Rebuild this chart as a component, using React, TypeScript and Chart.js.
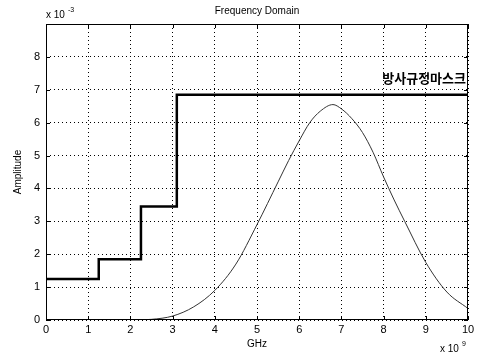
import React, { useEffect, useRef } from "react";
import { Chart, registerables } from "chart.js";

Chart.register(...registerables);

// Frequency in GHz (axis shown as x 10^9 Hz), amplitude in units of 10^-3
const maskFreq = [0, 1.25, 1.25, 2.25, 2.25, 3.1, 3.1, 10];
const maskAmp = [1.25, 1.25, 1.85, 1.85, 3.45, 3.45, 6.85, 6.85];

const pulseFreq = [0, 1, 2, 2.5, 3, 3.5, 4, 4.5, 5, 5.5, 5.75, 6, 6.25, 6.5, 6.8, 7, 7.25, 7.5, 7.75, 8, 8.25, 8.5, 9, 9.5, 10];
const pulseAmp = [0, 0, 0, 0.02, 0.12, 0.4, 0.9, 1.7, 2.9, 4.2, 4.85, 5.45, 6.0, 6.35, 6.55, 6.42, 6.12, 5.7, 5.1, 4.35, 3.65, 3.0, 1.75, 0.85, 0.35];

const xTicks = [0, 1, 2, 3, 4, 5, 6, 7, 8, 9, 10];
const yTicks = [0, 1, 2, 3, 4, 5, 6, 7, 8];

const titleText = "Frequency Domain";
const xLabel = "GHz";
const yLabel = "Amplitude";
const maskLabel = "방사규정마스크";

export default function App() {
  const ref = useRef<HTMLCanvasElement | null>(null);
  useEffect(() => {
    if (!ref.current) return;
    const font = "'Liberation Sans', Arial, sans-serif";
    const overlay = {
      id: "overlay",
      afterDraw(chart: any) {
        const ctx = chart.ctx;
        const a = chart.chartArea;
        const xs = chart.scales.x;
        const ys = chart.scales.y;
        ctx.save();
        ctx.strokeStyle = "#000";
        ctx.lineWidth = 1;
        ctx.setLineDash([]);
        ctx.strokeRect(a.left + 0.5, a.top + 0.5, a.right - a.left - 1, a.bottom - a.top - 1);
        ctx.beginPath();
        xTicks.forEach((t) => {
          const px = Math.round(xs.getPixelForValue(t)) + 0.5;
          ctx.moveTo(px, a.bottom);
          ctx.lineTo(px, a.bottom - 4);
          ctx.moveTo(px, a.top);
          ctx.lineTo(px, a.top + 4);
        });
        yTicks.forEach((t) => {
          const py = Math.round(ys.getPixelForValue(t)) + 0.5;
          ctx.moveTo(a.left, py);
          ctx.lineTo(a.left + 4, py);
          ctx.moveTo(a.right, py);
          ctx.lineTo(a.right - 4, py);
        });
        ctx.stroke();
        ctx.fillStyle = "#000";
        ctx.font = `10px ${font}`;
        ctx.textAlign = "center";
        ctx.textBaseline = "middle";
        ctx.fillText(titleText, (a.left + a.right) / 2, 11);
        ctx.fillText(xLabel, (a.left + a.right) / 2, 344);
        ctx.save();
        ctx.translate(18, (a.top + a.bottom) / 2);
        ctx.rotate(-Math.PI / 2);
        ctx.fillText(yLabel, 0, 0);
        ctx.restore();
        ctx.textAlign = "left";
        ctx.font = `10px ${font}`;
        ctx.fillText("x 10", 46, 15);
        ctx.font = `7px ${font}`;
        ctx.fillText("-3", 68, 10);
        ctx.font = `10px ${font}`;
        ctx.fillText("x 10", 440, 349);
        ctx.font = `7px ${font}`;
        ctx.fillText("9", 462, 344);
        ctx.font = `bold 13px 'Noto Sans CJK KR', sans-serif`;
        ctx.textAlign = "right";
        ctx.fillText(maskLabel, a.right - 2, ys.getPixelForValue(7.35));
        ctx.restore();
      },
    };
    const chart = new Chart(ref.current, {
      type: "line",
      data: {
        datasets: [
          {
            label: "mask",
            data: maskFreq.map((x, i) => ({ x, y: maskAmp[i] })),
            borderColor: "#000",
            borderWidth: 2.5,
            pointRadius: 0,
            tension: 0,
            fill: false,
          },
          {
            label: "pulse",
            data: pulseFreq.map((x, i) => ({ x, y: pulseAmp[i] })),
            borderColor: "#333",
            borderWidth: 1,
            pointRadius: 0,
            cubicInterpolationMode: "monotone",
            fill: false,
          },
        ],
      },
      options: {
        animation: false,
        responsive: false,
        layout: { padding: { left: 0, top: 24, right: 10, bottom: 0 } },
        plugins: { legend: { display: false }, tooltip: { enabled: false }, title: { display: false } },
        scales: {
          x: {
            type: "linear",
            min: 0,
            max: 10,
            afterFit: (s: any) => { s.height = 37; },
            afterBuildTicks: (s: any) => { s.ticks = xTicks.map((v) => ({ value: v })); },
            ticks: { color: "#000", font: { family: font, size: 11 }, padding: 3, maxRotation: 0 },
            grid: { color: "#000", lineWidth: 1, drawTicks: false },
            border: { display: false, dash: [1, 3] },
          },
          y: {
            type: "linear",
            min: 0,
            max: 9,
            afterFit: (s: any) => { s.width = 46; },
            afterBuildTicks: (s: any) => { s.ticks = yTicks.map((v) => ({ value: v })); },
            ticks: { color: "#000", font: { family: font, size: 11 }, padding: 6 },
            grid: { color: "#000", lineWidth: 1, drawTicks: false },
            border: { display: false, dash: [1, 3] },
          },
        },
      },
      plugins: [overlay],
    });
    return () => chart.destroy();
  }, []);
  return (
    <div style={{ position: "fixed", left: 0, top: 0, width: 478, height: 357, background: "#fff" }}>
      <canvas ref={ref} width={478} height={357} style={{ width: 478, height: 357 }} />
    </div>
  );
}
